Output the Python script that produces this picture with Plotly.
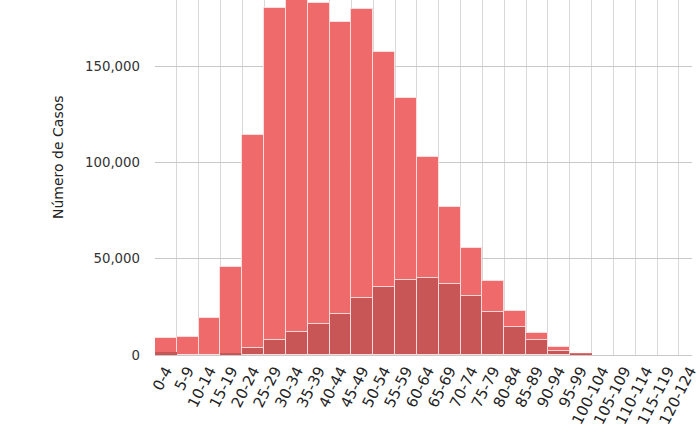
import plotly.graph_objects as go

age_groups = ["0-4", "5-9", "10-14", "15-19", "20-24", "25-29", "30-34", "35-39",
              "40-44", "45-49", "50-54", "55-59", "60-64", "65-69", "70-74", "75-79",
              "80-84", "85-89", "90-94", "95-99", "100-104", "105-109", "110-114",
              "115-119", "120-124"]

casos_total = [8800, 9500, 19000, 45500, 114200, 180000, 186000, 182900, 173000,
               179500, 157500, 133600, 102600, 77000, 55400, 38300, 23000, 11600,
               4150, 900, 0, 0, 0, 0, 0]

casos_sub = [1700, 0, 0, 900, 3500, 7800, 11800, 15900, 21100, 29600, 35300,
             39100, 40100, 36800, 30600, 22500, 14500, 7800, 2200, 500, 0, 0, 0, 0, 0]

y_ticks = [0, 50000, 100000, 150000]
y_title = "Número de Casos"


def line_widths(vals):
    return [1 if v > 2000 else 0 for v in vals]


fig = go.Figure()
fig.add_trace(go.Bar(x=age_groups, y=casos_total, marker_color="#EF6A6A",
                     marker_line=dict(color="rgba(255,225,225,0.9)",
                                      width=line_widths(casos_total))))
fig.add_trace(go.Bar(x=age_groups, y=casos_sub, marker_color="#C95656",
                     marker_line=dict(color="rgba(255,225,225,0.9)",
                                      width=line_widths(casos_sub))))

fig.update_layout(
    width=700, height=435,
    margin=dict(l=155, r=0, t=0, b=80),
    barmode="overlay", bargap=0,
    showlegend=False,
    plot_bgcolor="white", paper_bgcolor="white",
    font=dict(family="DejaVu Sans", size=13, color="#333333"),
)
fig.update_xaxes(
    type="category", range=[-0.5, 24.1],
    tickson="boundaries", ticks="",
    showgrid=True, gridcolor="#d8d8d8", gridwidth=1.3,
    tickangle=-63, tickfont=dict(size=15, color="#222222"),
    showline=True, linecolor="#c8c8c8", linewidth=1,
)
fig.update_yaxes(
    range=[0, 184300], tickvals=y_ticks, tickformat=",",
    showgrid=True, gridcolor="#c8c8c8", gridwidth=1,
    zeroline=False, ticks="", ticklabelstandoff=14,
    tickfont=dict(size=13.3, color="#333333"),
)
fig.add_annotation(
    text=y_title, textangle=-90, showarrow=False,
    xref="paper", yref="paper", x=-0.1817, y=0.559,
    xanchor="center", yanchor="middle",
    font=dict(family="DejaVu Sans", size=14, color="#222222"),
)

fig.write_html("out.html")
